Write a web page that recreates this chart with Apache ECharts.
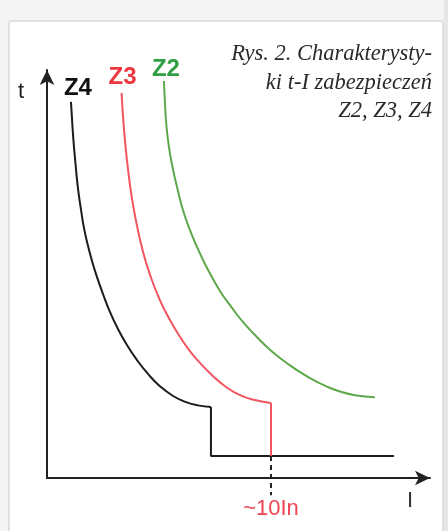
<!DOCTYPE html>
<html>
<head>
<meta charset="utf-8">
<script src="https://cdn.jsdelivr.net/npm/echarts@6/dist/echarts.min.js"></script>
<style>
  html, body { margin: 0; padding: 0; background: #f4f4f4; }
  #main { width: 448px; height: 531px; }
</style>
</head>
<body>
<div id="main"></div>
<script>
// prad I w jednostkach In, czas t w jednostkach umownych
var z4Curve = [[1.07, 92.2], [1.12, 87.7], [1.18, 82.8], [1.27, 77.2], [1.38, 71.1], [1.52, 65.7],
  [1.65, 61.3], [1.83, 56.9], [2.01, 53.2], [2.23, 49.3], [2.50, 45.1], [2.81, 40.7], [3.17, 36.5],
  [3.57, 32.6], [4.02, 28.9], [4.51, 25.5], [5.04, 22.5], [5.63, 20.1], [6.21, 18.6], [6.74, 17.8],
  [7.32, 17.4]];
var z4Step = [[7.32, 17.4], [7.32, 5.4], [15.49, 5.4]];

var z3Curve = [[3.33, 94.4], [3.39, 89.0], [3.48, 82.8], [3.62, 75.5], [3.79, 68.6], [4.02, 61.8],
  [4.29, 55.4], [4.60, 49.8], [5.04, 43.6], [5.49, 38.7], [5.94, 34.6], [6.38, 31.1], [6.83, 28.2],
  [7.37, 25.2], [7.95, 22.5], [8.62, 20.3], [9.29, 19.1], [10.0, 18.4]];
var z3Step = [[10.0, 18.4], [10.0, 5.4]];

var z2Curve = [[5.22, 97.3], [5.26, 92.6], [5.33, 86.5], [5.45, 80.9], [5.63, 75.5], [5.85, 70.3],
  [6.07, 65.7], [6.38, 60.8], [6.70, 56.6], [7.05, 52.5], [7.41, 48.8], [7.81, 45.1], [8.26, 41.7],
  [8.71, 38.5], [9.24, 35.3], [9.82, 32.1], [10.40, 29.4], [10.98, 27.1], [11.74, 24.5],
  [12.50, 22.4], [13.08, 21.2], [13.75, 20.3], [14.64, 19.8]];

var mark10In = [[10.0, 5.4], [10.0, -4.2]];

var titleLines = ['Rys. 2. Charakterysty-', 'ki t-I zabezpieczeń', 'Z2, Z3, Z4'];

var colors = {Z4: '#1c1c1c', Z3: '#f25560', Z2: '#5ea84c'};
var labelColors = {Z4: '#111', Z3: '#ee3540', Z2: '#2f9e45'};

// pierwszy punkt krzywej dostaje etykiete Z2/Z3/Z4
function withLabel(data, name, dist, off) {
  return data.map(function (p, i) {
    if (i > 0) return p;
    return {
      value: p,
      label: {
        show: true, position: 'top', distance: dist, offset: off,
        formatter: name, color: labelColors[name],
        fontFamily: 'Liberation Sans', fontWeight: 'bold', fontSize: 24
      }
    };
  });
}

var chart = echarts.init(document.getElementById('main'));

// podpis rysunku - kazda linia osobno, wyrownana do prawej
var titleTexts = titleLines.map(function (t, i) {
  return {
    type: 'text', right: 16, top: 43 + i * 28.5, z: 10,
    style: {text: t, fill: '#2a2a2a', font: 'italic 22.5px "Liberation Serif"'}
  };
});

var option = {
  animation: false,
  backgroundColor: '#f4f4f4',
  graphic: [
    {type: 'rect', z: -10, shape: {x: 444, y: 0, width: 4, height: 531}, style: {fill: '#e6e6e6'}},
    {type: 'rect', z: -9, shape: {x: 9, y: 21, width: 434, height: 530, r: 2},
      style: {fill: '#ffffff', stroke: '#d9d9d9', lineWidth: 1.5}}
  ].concat(titleTexts),
  grid: {left: 47, top: 70, width: 383, height: 408},
  xAxis: {
    type: 'value', min: 0, max: 17.1,
    name: 'I', nameLocation: 'end', nameGap: -20,
    nameTextStyle: {fontFamily: 'Liberation Sans', fontSize: 22, color: '#333',
      align: 'center', verticalAlign: 'top', padding: [12, 0, 0, 0]},
    axisLine: {lineStyle: {color: '#222', width: 2}, symbol: ['none', 'arrow'], symbolSize: [11, 15]},
    axisTick: {show: false}, axisLabel: {show: false}, splitLine: {show: false}
  },
  yAxis: {
    type: 'value', min: 0, max: 100,
    name: 't', nameLocation: 'end', nameGap: -22,
    nameTextStyle: {fontFamily: 'Liberation Sans', fontSize: 22, color: '#222',
      align: 'right', verticalAlign: 'middle', padding: [0, 23, 0, 0]},
    axisLine: {lineStyle: {color: '#222', width: 2}, symbol: ['none', 'arrow'], symbolSize: [11, 15]},
    axisTick: {show: false}, axisLabel: {show: false}, splitLine: {show: false}
  },
  series: [
    {type: 'line', smooth: true, symbolSize: 0, data: withLabel(z4Curve, 'Z4', 1, [7, 0]),
      lineStyle: {color: colors.Z4, width: 2}},
    {type: 'line', symbolSize: 0, data: z4Step, lineStyle: {color: colors.Z4, width: 2}},
    {type: 'line', smooth: true, symbolSize: 0, data: withLabel(z3Curve, 'Z3', 3, [1, 0]),
      lineStyle: {color: colors.Z3, width: 2}},
    {type: 'line', symbolSize: 0, data: z3Step, lineStyle: {color: colors.Z3, width: 2}},
    {type: 'line', smooth: true, symbolSize: 0, data: withLabel(z2Curve, 'Z2', 0, [2, 0]),
      lineStyle: {color: colors.Z2, width: 2}},
    {type: 'line', symbolSize: 0, clip: false,
      data: [mark10In[0], {value: mark10In[1], label: {show: true, position: 'bottom', distance: 3,
        formatter: '~10In', color: '#ee4550', fontFamily: 'Liberation Sans', fontSize: 22}}],
      lineStyle: {color: '#222', width: 2, type: [5, 4]}}
  ]
};

chart.setOption(option);
</script>
</body>
</html>
